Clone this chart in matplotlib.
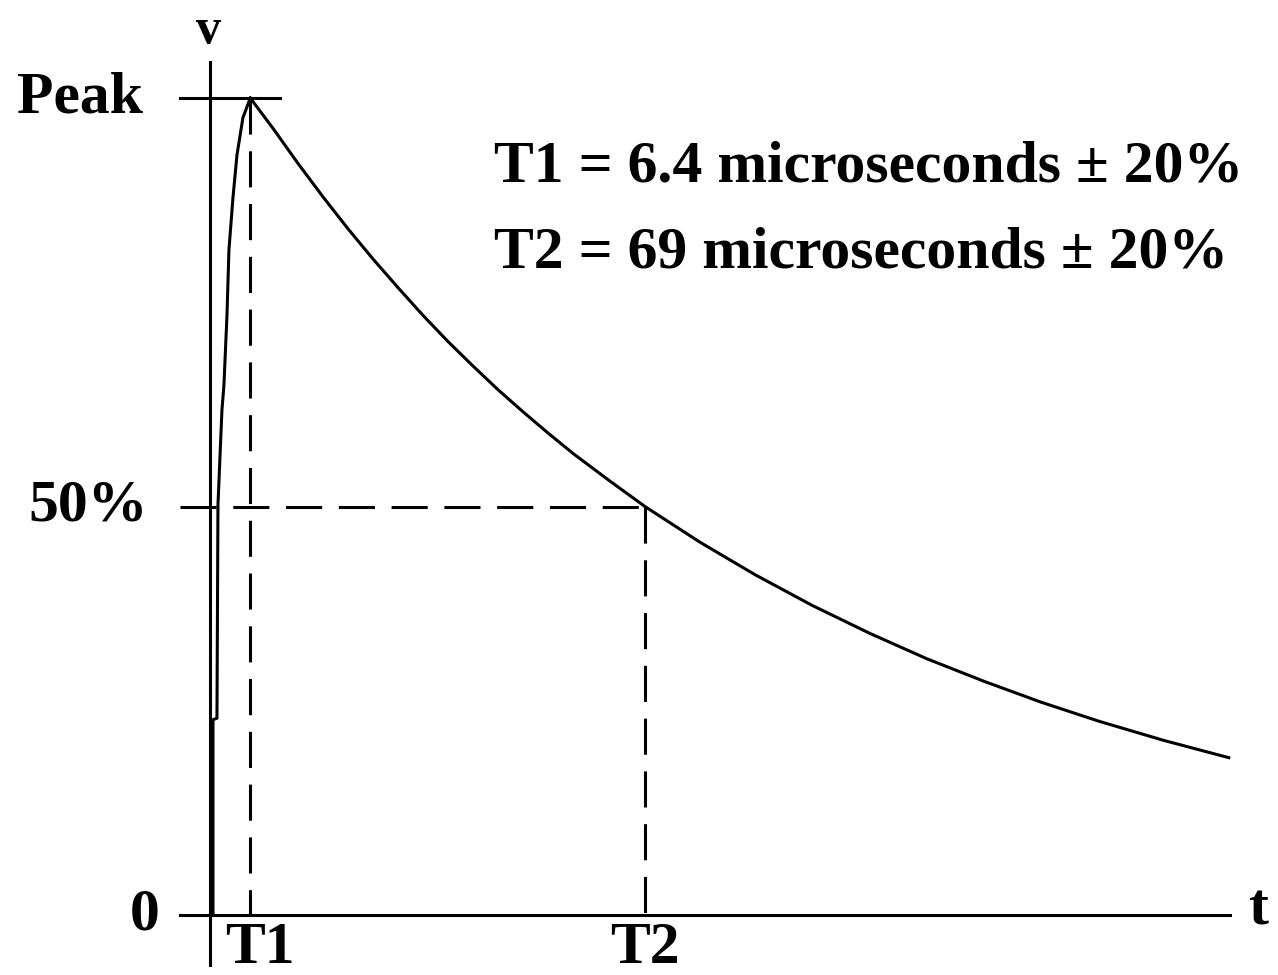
import matplotlib.pyplot as plt

plt.rcParams["lines.scale_dashes"] = False

# impulse voltage waveform, time in microseconds, voltage in % of peak
t_rise = [0.48, 0.48, 1.11, 1.27, 1.90, 2.22, 2.70, 3.01, 3.65, 4.28, 5.23, 6.4]
v_rise = [0.0, 23.9, 24.1, 50.2, 61.8, 64.9, 73.4, 81.4, 87.8, 93.0, 97.6, 100.0]

t_tail = [6.4, 9.99, 13.96, 17.93, 21.89, 25.86, 29.82, 33.79, 37.75, 41.72,
          45.69, 49.65, 53.62, 57.58, 63.29, 69.0, 77.73, 86.45, 95.49, 104.7,
          113.7, 122.8, 131.8, 141.0, 151.3, 161.6]
v_tail = [100.0, 96.3, 92.0, 87.9, 84.0, 80.3, 76.8, 73.4, 70.2, 67.2,
          64.3, 61.6, 59.0, 56.5, 53.2, 50.0, 45.63, 41.66, 37.91, 34.46,
          31.37, 28.6, 26.06, 23.72, 21.37, 19.26]

T1 = 6.4
T2 = 69.0
levels = [0, 50, 100]
level_labels = ["0", "50%", "Peak"]
notes = ["T1 = 6.4 microseconds \u00b1 20%", "T2 = 69 microseconds \u00b1 20%"]

font = dict(family="Liberation Serif", weight="bold", fontsize=43, color="black")
lw = 2.2
dash = (0, (26, 12))

fig = plt.figure(figsize=(12.78, 9.75), dpi=100)
ax = fig.add_axes([0, 0, 1, 1])
ax.set_xlim(-33.3, 169.4)
ax.set_ylim(-7.34, 112.0)
ax.axis("off")

# axes drawn as plain lines
ax.plot([-4.8, 161.8], [0, 0], color="black", lw=lw)
ax.plot([0, 0], [-6.1, 104.4], color="black", lw=lw)
ax.plot([-4.8, 11.1], [100, 100], color="black", lw=lw)

# reference lines for T1 and T2
ax.plot([-4.8, T2], [50, 50], color="black", lw=lw, linestyle=dash)
ax.plot([T1, T1], [100, 0], color="black", lw=lw, linestyle=dash)
ax.plot([T2, T2], [50, 0], color="black", lw=lw, linestyle=dash)

# waveform
ax.plot(t_rise, v_rise, color="black", lw=lw, solid_joinstyle="miter")
ax.plot(t_tail, v_tail, color="black", lw=lw, solid_joinstyle="round")

# level labels on the voltage axis
label_x = [-8.0, -9.8, -10.6]
for lv, txt, lx in zip(levels, level_labels, label_x):
    ax.text(lx, lv, txt, ha="right", va="center", **font)

ax.text(T1 + 1.6, -0.9, "T1", ha="center", va="top", **font)
ax.text(T2, -0.9, "T2", ha="center", va="top", **font)
ax.text(164.8, 0.6, "t", ha="left", va="center", **font)
ax.text(-0.3, 111.0, "v", ha="center", va="top", fontsize=36,
        family="Liberation Serif", weight="bold")

for i, note in enumerate(notes):
    ax.text(45.0, 89.8 - 10.5 * i, note, ha="left", va="baseline", **font)

fig.savefig("out.png", dpi=100)
